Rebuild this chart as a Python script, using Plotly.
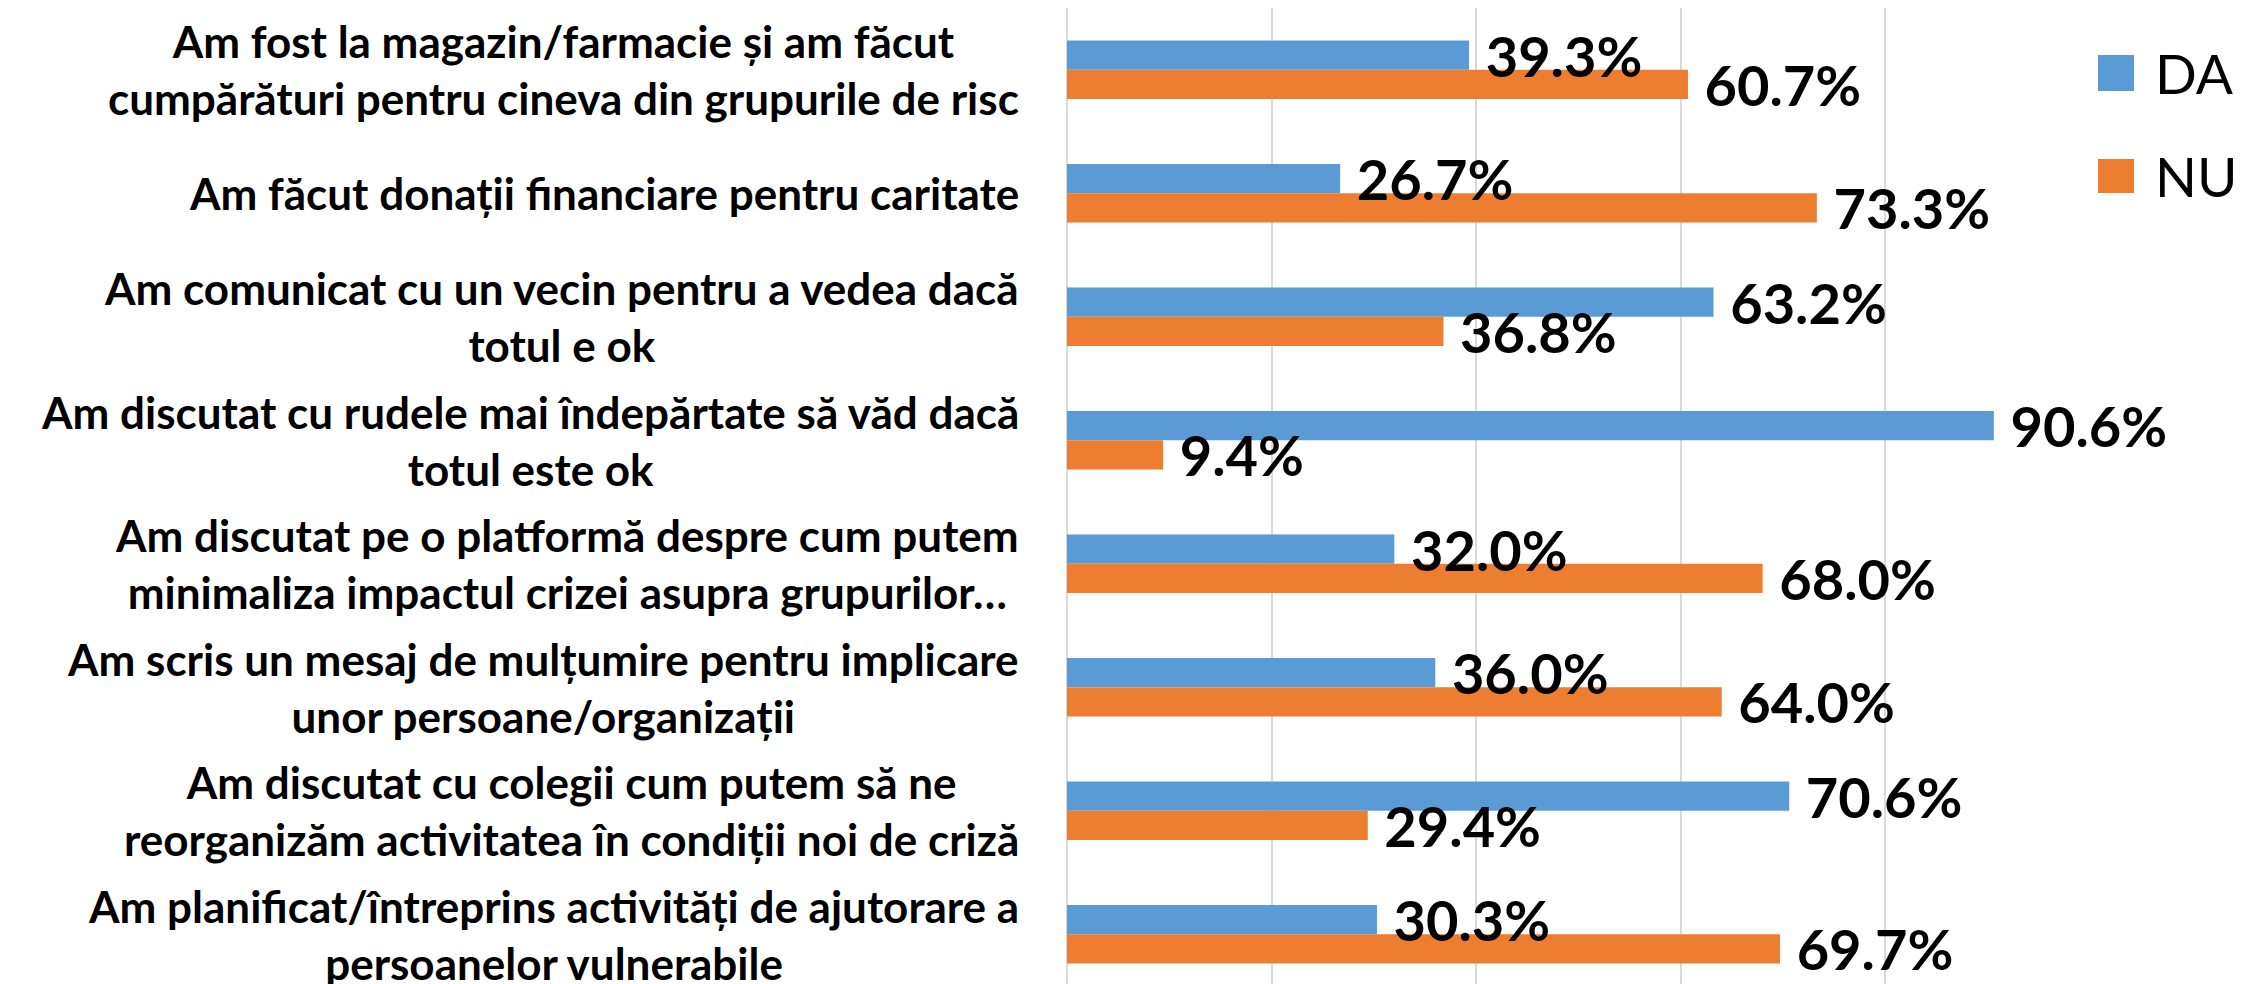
import plotly.graph_objects as go

categories = [
    "Am fost la magazin/farmacie și am făcut<br>cumpărături pentru cineva din grupurile de risc",
    "Am făcut donații financiare pentru caritate",
    "Am comunicat cu un vecin pentru a vedea dacă<br>totul e ok",
    "Am discutat cu rudele mai îndepărtate să văd dacă<br>totul este ok",
    "Am discutat pe o platformă despre cum putem<br>minimaliza impactul crizei asupra grupurilor…",
    "Am scris un mesaj de mulțumire pentru implicare<br>unor persoane/organizații",
    "Am discutat cu colegii cum putem să ne<br>reorganizăm activitatea în condiții noi de criză",
    "Am planificat/întreprins activități de ajutorare a<br>persoanelor vulnerabile",
]
da_values = [39.3, 26.7, 63.2, 90.6, 32.0, 36.0, 70.6, 30.3]
nu_values = [60.7, 73.3, 36.8, 9.4, 68.0, 64.0, 29.4, 69.7]
series_names = ["DA", "NU"]
colors = ["#5B9BD5", "#ED7D31"]

keys = [f"c{i}" for i in range(len(categories))]
BAR_W = 0.2375
offsets = [-BAR_W, 0.0]

fig = go.Figure()
# bars first (no text)
for name, vals, col, off in zip(series_names, [da_values, nu_values], colors, offsets):
    fig.add_trace(go.Bar(
        y=keys, x=vals, orientation="h", name=name,
        marker=dict(color=col, line=dict(width=0)),
        width=BAR_W, offset=off, showlegend=False,
    ))
# value labels drawn above all bars (transparent copies of the same bars)
for name, vals, off in zip(series_names, [da_values, nu_values], offsets):
    fig.add_trace(go.Bar(
        y=keys, x=vals, orientation="h", name=name,
        marker=dict(color="rgba(0,0,0,0)", line=dict(width=0)),
        width=BAR_W, offset=off, showlegend=False, hoverinfo="skip",
        texttemplate="\u00a0%{x:.1f}%", textposition="outside",
        constraintext="none", cliponaxis=False,
        textfont=dict(family="Lato", size=56, color="black", weight="bold"),
    ))

annotations = []
for k, lab in zip(keys, categories):
    annotations.append(dict(
        x=-0.045, xref="paper", y=k, yref="y", text=lab, showarrow=False,
        xanchor="right", yanchor="middle", align="center",
        font=dict(family="Lato", size=44, color="black", weight="bold"),
    ))

# legend (manual, large swatches)
shapes = []
leg_y = [(0.9518, 0.915, 0.9334), (0.8453, 0.8105, 0.8279)]
for name, col, (y0, y1, yc) in zip(series_names, colors, leg_y):
    shapes.append(dict(type="rect", xref="paper", yref="paper",
                       x0=1.0078, x1=1.043, y0=y1, y1=y0,
                       fillcolor=col, line=dict(width=0)))
    annotations.append(dict(x=1.0616, xref="paper", y=yc, yref="paper",
                            text=name, showarrow=False, xanchor="left",
                            yanchor="middle",
                            font=dict(family="Lato", size=55, color="black")))

# page body has an 8px default margin, so the figure is sized to fit the window
fig.update_layout(
    width=2240, height=976,
    margin=dict(l=1059, r=158, t=0, b=0),
    paper_bgcolor="white", plot_bgcolor="white",
    barmode="overlay",
    annotations=annotations, shapes=shapes,
    showlegend=False,
)
fig.update_xaxes(range=[0, 100], dtick=20, showgrid=True, gridcolor="#D9D9D9",
                 gridwidth=2, zeroline=True, zerolinecolor="#D9D9D9",
                 zerolinewidth=2, showticklabels=False, ticks="", showline=False)
fig.update_yaxes(categoryorder="array", categoryarray=keys, range=[7.403, -0.5],
                 showticklabels=False, ticks="", showgrid=False, zeroline=False,
                 showline=False)

fig.write_html("out.html")
